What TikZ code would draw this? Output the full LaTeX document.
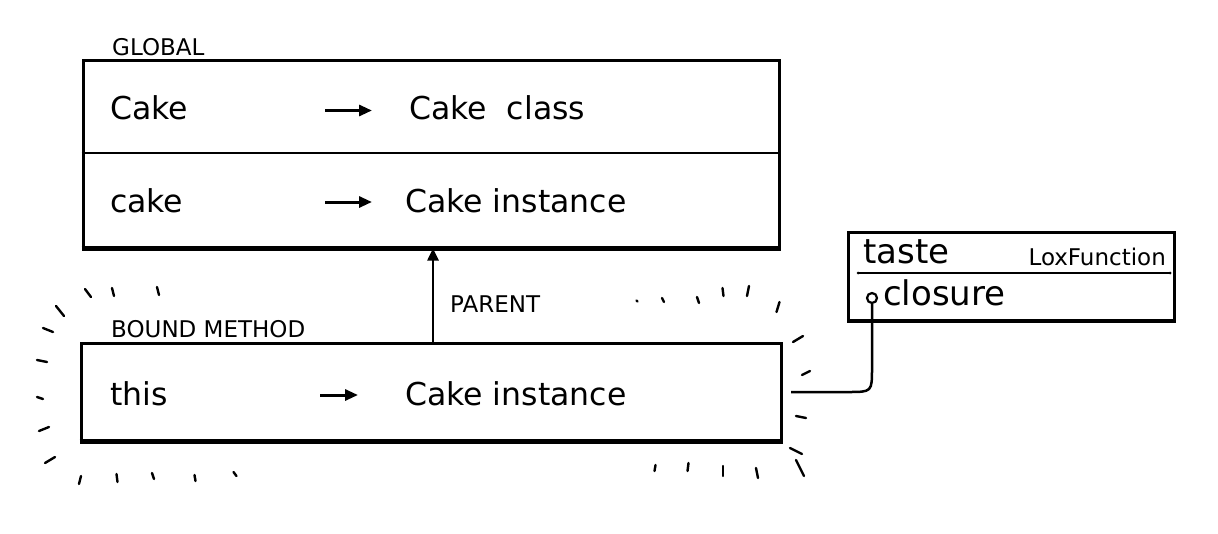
\documentclass[tikz,border=0pt]{standalone}
\usepackage{fontspec}
\setmainfont{DejaVu Sans}
\usetikzlibrary{arrows.meta}
\begin{document}
\begin{tikzpicture}[x=1pt,y=-1pt,
  box/.style={draw,line width=3pt,inner sep=0pt},
  big/.style={font=\fontsize{31.5}{34}\selectfont,anchor=base west,inner sep=0pt},
  lox/.style={font=\fontsize{34}{37}\selectfont,anchor=base west,inner sep=0pt},
  small/.style={font=\fontsize{23}{25}\selectfont,anchor=base west,inner sep=0pt},
  maparrow/.style={line width=3pt,-{Triangle[length=13pt,width=11pt]}},
  hash/.style={line width=2.4pt,line cap=round}]
\useasboundingbox (0,0) rectangle (1218,533);
% global box
\node[box,minimum width=696pt,minimum height=187pt] (global) at (431,153.5) {};
\draw[line width=4.5pt] (global.south west) -- (global.south east);
\draw[line width=2.5pt] (global.west |- 0,153) coordinate (gdl) -- (global.east |- 0,153) coordinate (gdr);
\node[small] (glabel) at (112,55) {GLOBAL};
\node[big] (k1) at (110,119) {Cake};
\node[big] (v1) at (409,119) {Cake\hspace{10pt} class};
\coordinate (a1s) at (325,110.5);
\coordinate (a1e) at (372,110.5);
\draw[maparrow] (a1s) -- (a1e);
\node[big] (k2) at (110,212) {cake};
\node[big] (v2) at (405,212) {Cake instance};
\coordinate (a2s) at (325,202);
\coordinate (a2e) at (372,202);
\draw[maparrow] (a2s) -- (a2e);
% bound method box
\node[box,minimum width=700pt,minimum height=97pt] (bound) at (431,391.5) {};
\draw[line width=4.5pt] (bound.south west) -- (bound.south east);
\node[small] (blabel) at (111,337) {BOUND METHOD};
\node[big] (k3) at (110,405) {this};
\node[big] (v3) at (405,405) {Cake instance};
\coordinate (a3s) at (320,395);
\coordinate (a3e) at (358,395);
\draw[maparrow] (a3s) -- (a3e);
% parent arrow
\draw[line width=2.5pt,-{Triangle[length=12pt,width=11pt]}] (bound.north -| 433,0) -- (global.south -| 433,0);
\node[small] (parent) at (450,312) {PARENT};
% LoxFunction box
\node[box,minimum width=326pt,minimum height=88pt] (lox) at (1011.5,276) {};
\draw[line width=3.5pt] (lox.south west) -- (lox.south east);
\coordinate (ldl) at (858,273);
\coordinate (ldr) at (1170,273);
\draw[line width=2pt] (ldl) -- (ldr);
\fill (ldl) circle (1.5pt) (ldr) circle (1.5pt);
\node[lox] (taste) at (863,263) {taste};
\node[small,anchor=base east] (loxname) at (1166,265) {LoxFunction};
\node[lox] (closure) at (883,305) {closure};
\node[circle,draw,line width=2.2pt,minimum size=10pt,inner sep=0pt] (dot) at (872,298) {};
% connector
\coordinate (cstart) at (791,392);
\draw[line width=2.5pt] (cstart) -- (848,392) .. controls (872,392) .. (872,368) -- (dot.south);
% hash marks
\foreach \x/\y/\dx/\dy in {
  88/293/3/4, 113/292/1/4, 158/291/1/4, 60/311/4/5, 48/330/5/2, 42/361/5/1,
  40/398/3/1, 44/429/5/-2, 50/460/5/-3, 80/480/1/-4, 117/478/0.5/4, 153/476/1/3,
  195/478/0.5/3, 235/474/1.5/2,
  637/301/0.5/0.5, 663/300/1/2, 698/300/1/3, 723/292/0.5/4, 748/291/-1/5,
  778/307/-1.5/5, 798/339/5/-3, 806/373/4/-2, 801/417/5/1, 796/451/6/3,
  655/468/-0.5/3, 688/467/-0.5/4, 723/471/0/5, 757/473/1/5, 800/468/4/8}
  \draw[hash] (\x-\dx,\y-\dy) -- (\x+\dx,\y+\dy);
\end{tikzpicture}
\end{document}
